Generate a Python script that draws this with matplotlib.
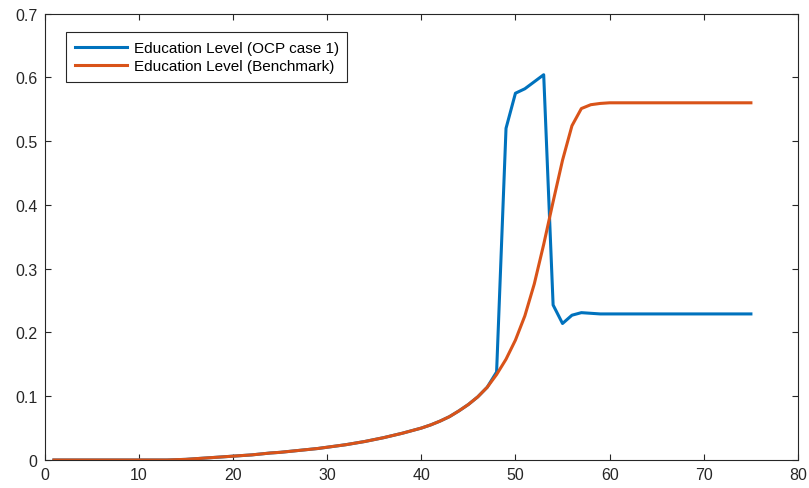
import numpy as np
import matplotlib.pyplot as plt

plt.rcParams['font.family'] = ['Liberation Sans', 'DejaVu Sans']

# time steps
t = np.arange(1, 76)

# benchmark education level
benchmark = [0.0] * 13 + [
    0.0005, 0.001, 0.002, 0.003, 0.004, 0.005, 0.006,          # 14-20
    0.007, 0.008, 0.0095, 0.011, 0.012, 0.0135, 0.015, 0.0165, 0.018, 0.02,  # 21-30
    0.022, 0.024, 0.0265, 0.029, 0.032, 0.035, 0.0385, 0.042, 0.046, 0.05,   # 31-40
    0.055, 0.061, 0.068, 0.077, 0.087, 0.099, 0.114, 0.134, 0.158, 0.188,    # 41-50
    0.226, 0.276, 0.338, 0.405, 0.47, 0.524, 0.551, 0.557, 0.559, 0.56,      # 51-60
] + [0.56] * 15

# OCP case 1: equal to benchmark up to t=48
ocp = benchmark[:47] + [
    0.138, 0.52, 0.575, 0.582, 0.593, 0.604, 0.243, 0.214, 0.227, 0.231, 0.230,  # 48-58
] + [0.229] * 17

fig, ax = plt.subplots(figsize=(8.09, 4.89), dpi=100)
fig.subplots_adjust(left=44.5/809, right=798/809, top=1-14.5/489, bottom=1-461/489)

ax.plot(t, ocp, color='#0072BD', lw=2.2, label='Education Level (OCP case 1)')
ax.plot(t, benchmark, color='#D95319', lw=2.2, label='Education Level (Benchmark)')

ax.set_xlim(0, 80)
ax.set_ylim(0, 0.7)
ax.set_xticks(range(0, 81, 10))
ax.set_yticks(np.arange(0, 0.71, 0.1))
ax.set_yticklabels(['0', '0.1', '0.2', '0.3', '0.4', '0.5', '0.6', '0.7'])
ax.tick_params(direction='in', top=True, right=True, length=4, width=0.8,
               labelsize=11.5, colors='#262626', pad=5)
for s in ax.spines.values():
    s.set_color('#262626')
    s.set_linewidth(0.8)

leg = ax.legend(loc='upper left', bbox_to_anchor=(0.029, 0.9575), fontsize=11,
                fancybox=False, framealpha=1, edgecolor='#262626',
                borderaxespad=0, handlelength=3.4, handletextpad=0.45,
                borderpad=0.55, labelspacing=0.3)
leg.get_frame().set_linewidth(0.8)

fig.savefig('out.png', dpi=100)
